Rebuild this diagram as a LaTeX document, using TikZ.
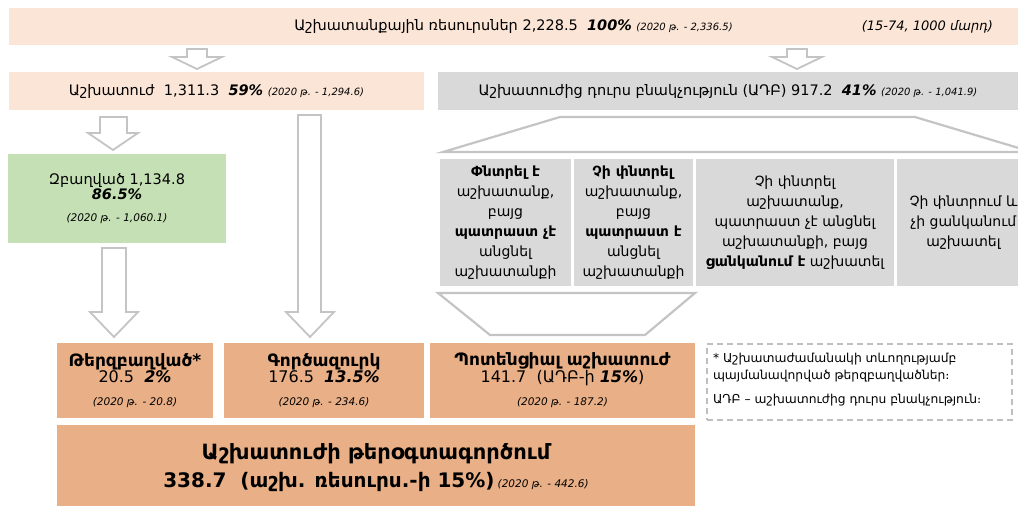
\documentclass[tikz,border=0pt]{standalone}
\usepackage{fontspec}
\setmainfont{DejaVu Sans}
\definecolor{peach}{HTML}{FBE5D6}
\definecolor{graybox}{HTML}{D9D9D9}
\definecolor{greenbox}{HTML}{C5E0B4}
\definecolor{tanbox}{HTML}{E9AF86}
\definecolor{outlinegray}{HTML}{C4C4C4}
\definecolor{dashgray}{HTML}{BFBFBF}
\newcommand{\bival}[1]{\textbf{\textit{#1}}}
\newcommand{\yr}[1]{{\fontsize{10}{12}\selectfont\itshape #1}}
\newcommand{\yrb}[1]{{\fontsize{10.5}{12}\selectfont\itshape #1}}
\begin{document}
\begin{tikzpicture}[x=1pt,y=-1pt,
  every node/.style={inner sep=0pt, outer sep=0pt, align=center, text=black},
  box/.style={fill=#1, anchor=north west},
  blockarrow/.style={draw=outlinegray, line width=1.8pt, fill=white, line join=miter},
  funnel/.style={draw=outlinegray, line width=2.2pt, fill=white, line join=miter},
  main/.style={font=\fontsize{14.5}{17}\selectfont},
  graytext/.style={font=\fontsize{14}{20}\selectfont},
  note/.style={draw=dashgray, line width=1.5pt, dash pattern=on 6pt off 4pt, anchor=north west}]
\useasboundingbox (0,0) rectangle (1018,506);
\clip (0,0) rectangle (1018,506);

% top bar
\node[box=peach, minimum width=1009pt, minimum height=37pt, main] (res) at (9,8)
  {Աշխատանքային ռեսուրսներ 2,228.5\ \ \bival{100\%} \yr{(2020 թ. - 2,336.5)}};
\node[anchor=east, font=\fontsize{13}{16}\selectfont\itshape] (unit) at (993,27) {(15-74, 1000 մարդ)};

% small arrows
\draw[blockarrow] (187,49) -- (207,49) -- (207,57) -- (222,57) -- (197,69) -- (172,57) -- (187,57) -- cycle;
\draw[blockarrow] (787,49) -- (807,49) -- (807,57) -- (822,57) -- (797,69) -- (772,57) -- (787,57) -- cycle;

% second row
\node[box=peach, minimum width=415pt, minimum height=38pt, main] (labor) at (9,72)
  {Աշխատուժ\ \ 1,311.3\ \ \bival{59\%} \yr{(2020 թ. - 1,294.6)}};
\node[box=graybox, minimum width=580pt, minimum height=38pt, main] (adb) at (438,72)
  {Աշխատուժից դուրս բնակչություն (ԱԴԲ) 917.2\ \ \bival{41\%} \yr{(2020 թ. - 1,041.9)}};

% arrow labor -> employed
\draw[blockarrow] (100,117) -- (127,117) -- (127,133) -- (138,133) -- (113,150) -- (88,133) -- (100,133) -- cycle;
% long arrow labor -> unemployed
\draw[blockarrow] (298,115) -- (321,115) -- (321,312) -- (334,312) -- (310,337) -- (286,312) -- (298,312) -- cycle;

% employed
\node[box=greenbox, minimum width=218pt, minimum height=89pt] (emp) at (8,154)
  {{\fontsize{14.5}{20}\selectfont Զբաղված 1,134.8}\\
   {\fontsize{14.5}{20}\selectfont\bival{86.5\%}}\\[10pt]
   \yrb{(2020 թ. - 1,060.1)}};
% arrow employed -> underemployed
\draw[blockarrow] (102,248) -- (126,248) -- (126,312) -- (138,312) -- (114,337) -- (90,312) -- (102,312) -- cycle;

% top funnel
\draw[funnel] (560,117) -- (915,117) -- (1032,152) -- (443,152) -- cycle;

% gray category boxes
\node[box=graybox, minimum width=131pt, minimum height=127pt, graytext] (g1) at (440,159)
  {\textbf{Փնտրել է}\\աշխատանք,\\բայց\\\textbf{պատրաստ չէ}\\անցնել\\աշխատանքի};
\node[box=graybox, minimum width=119pt, minimum height=127pt, graytext] (g2) at (574,159)
  {\textbf{Չի փնտրել}\\աշխատանք,\\բայց\\\textbf{պատրաստ է}\\անցնել\\աշխատանքի};
\node[box=graybox, minimum width=198pt, minimum height=127pt, graytext] (g3) at (696,159)
  {Չի փնտրել\\աշխատանք,\\պատրաստ չէ անցնել\\աշխատանքի, բայց\\\textbf{ցանկանում է} աշխատել};
\node[box=graybox, minimum width=133pt, minimum height=127pt, graytext] (g4) at (897,159)
  {Չի փնտրում և\\չի ցանկանում\\աշխատել};

% bottom funnel
\draw[funnel] (438,293) -- (695,293) -- (645,335) -- (490,335) -- cycle;

% bottom boxes
\node[box=tanbox, minimum width=156pt, minimum height=75pt] (under) at (57,343)
  {{\fontsize{17}{19}\selectfont\bfseries Թերզբաղված*}\\
   {\fontsize{16}{20}\selectfont 20.5\ \ \bival{2\%}}\\[11pt]
   \yrb{(2020 թ. - 20.8)}};
\node[box=tanbox, minimum width=200pt, minimum height=75pt] (unemp) at (224,343)
  {{\fontsize{17}{19}\selectfont\bfseries Գործազուրկ}\\
   {\fontsize{16}{20}\selectfont 176.5\ \ \bival{13.5\%}}\\[11pt]
   \yrb{(2020 թ. - 234.6)}};
\node[box=tanbox, minimum width=265pt, minimum height=75pt] (pot) at (430,343)
  {{\fontsize{17}{19}\selectfont\bfseries Պոտենցիալ աշխատուժ}\\
   {\fontsize{16}{20}\selectfont 141.7\ \ (ԱԴԲ-ի \bival{15\%})}\\[11pt]
   \yrb{(2020 թ. - 187.2)}};
\node[box=tanbox, minimum width=638pt, minimum height=85pt] (total) at (57,425)
  {{\fontsize{21}{26}\selectfont\bfseries Աշխատուժի թերօգտագործում}\\[8pt]
   {\fontsize{20}{24}\selectfont\bfseries 338.7\ \ (աշխ. ռեսուրս.-ի 15\%)} \yrb{(2020 թ. - 442.6)}};

% note
\node[note, minimum width=305pt, minimum height=76pt] (notebox) at (707,344) {};
\node[anchor=north west, align=left, font=\fontsize{12.3}{19}\selectfont] (notetext) at (713,353)
  {* Աշխատաժամանակի տևողությամբ\\[-2pt]պայմանավորված թերզբաղվածներ։\\[5pt]ԱԴԲ – աշխատուժից դուրս բնակչություն։};
\end{tikzpicture}
\end{document}
